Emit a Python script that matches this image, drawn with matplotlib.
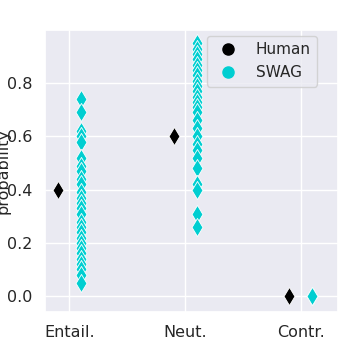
import matplotlib
matplotlib.use("Agg")
import matplotlib.pyplot as plt
from matplotlib.lines import Line2D
import seaborn as sns

sns.set_theme(style="darkgrid")
plt.rcParams['font.family'] = ['DejaVu Sans']

# ---- data ----
classes = ["Entail.", "Neut.", "Contr."]
human_probs = [0.4, 0.6, 0.0]
swag_entail = [0.74, 0.69, 0.62, 0.60, 0.58, 0.52, 0.49, 0.47, 0.44, 0.42,
               0.39, 0.37, 0.35, 0.33, 0.31, 0.28, 0.26, 0.24, 0.22, 0.20,
               0.18, 0.16, 0.14, 0.12, 0.10, 0.08, 0.05]
swag_neut = [0.95, 0.93, 0.91, 0.89, 0.87, 0.85, 0.83, 0.81, 0.79, 0.77,
             0.75, 0.73, 0.71, 0.69, 0.66, 0.63, 0.60, 0.57, 0.55, 0.52,
             0.48, 0.42, 0.40, 0.31, 0.26]
swag_contr = [0.0, 0.0, 0.0]
swag_probs = [swag_entail, swag_neut, swag_contr]

human_color = "black"
swag_color = "darkturquoise"
offset = 0.1

fig = plt.figure(figsize=(3.52, 3.41), dpi=100)
ax = fig.add_axes([0.128, 0.085, 0.832, 0.827])

for i, c in enumerate(classes):
    ax.scatter([i - offset], [human_probs[i]], marker="d", s=85,
               color=human_color, edgecolor="white", linewidth=0.6, zorder=3)
    vals = swag_probs[i]
    ax.scatter([i + offset] * len(vals), vals, marker="d", s=85,
               color=swag_color, edgecolor="white", linewidth=0.6, zorder=3)

ax.set_xticks(range(len(classes)))
ax.set_xticklabels(classes)
ax.set_xlim(-0.21, 2.32)
ax.set_ylim(-0.06, 1.0)
ax.set_yticks([0.0, 0.2, 0.4, 0.6, 0.8])
ax.tick_params(labelsize=11.5, pad=3)
ax.set_ylabel("probability", fontsize=11.5)
ax.yaxis.set_label_coords(-0.118, 0.5)
ax.set_xlabel("class", fontsize=11.5, labelpad=1)

handles = [Line2D([], [], marker="o", linestyle="", color=human_color, markersize=8),
           Line2D([], [], marker="o", linestyle="", color=swag_color, markersize=8)]
ax.legend(handles, ["Human", "SWAG"], loc="upper right", fontsize=11,
          bbox_to_anchor=(0.928, 0.979), borderaxespad=0, labelspacing=0.55)

fig.savefig("out.png", dpi=100)
